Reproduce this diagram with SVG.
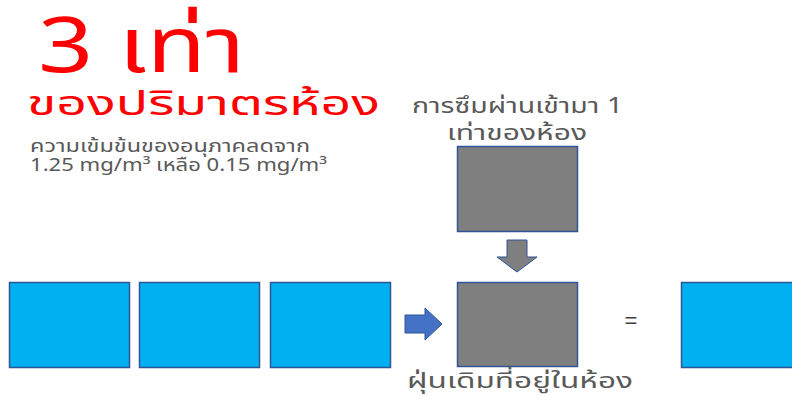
<svg xmlns="http://www.w3.org/2000/svg" width="792" height="396" viewBox="0 0 792 396">
<style>
.t{font-family:"Noto Sans","Noto Sans Thai","Leelawadee UI",Tahoma,sans-serif}
.red{fill:#ff0000}
.g{fill:#595959}
.blue{fill:#00b0f0;stroke:#2f5597;stroke-width:1.5}
.gray{fill:#7f7f7f;stroke:#2f5597;stroke-width:1.5}
</style>
<rect width="792" height="396" fill="#ffffff"/>
<g id="title">
<text class="t red" x="38" y="72" font-size="76" textLength="207" lengthAdjust="spacingAndGlyphs">3 เท่า</text>
<text class="t red" x="27" y="115" font-size="34" textLength="353" lengthAdjust="spacingAndGlyphs">ของปริมาตรห้อง</text>
</g>
<g id="subtitle">
<text class="t g" x="30" y="152" font-size="18" textLength="280" lengthAdjust="spacingAndGlyphs">ความเข้มข้นของอนุภาคลดจาก</text>
<text class="t g" x="30" y="171" font-size="18" textLength="297" lengthAdjust="spacingAndGlyphs">1.25 mg/m³ เหลือ 0.15 mg/m³</text>
</g>
<g id="room1"><rect class="blue" x="9.5" y="282.5" width="120" height="85"/></g>
<g id="room2"><rect class="blue" x="139.5" y="282.5" width="120" height="85"/></g>
<g id="room3"><rect class="blue" x="270.5" y="282.5" width="120" height="85"/></g>
<g id="infiltration">
<text class="t g" x="412" y="113" font-size="22" textLength="211" lengthAdjust="spacingAndGlyphs">การซึมผ่านเข้ามา 1</text>
<text class="t g" x="447" y="140" font-size="22" textLength="140" lengthAdjust="spacingAndGlyphs">เท่าของห้อง</text>
<rect class="gray" x="457.5" y="146.5" width="120" height="85"/>
</g>
<g id="existing">
<rect class="gray" x="457.5" y="282.5" width="120" height="84"/>
<text class="t g" x="407" y="388" font-size="22" textLength="226" lengthAdjust="spacingAndGlyphs">ฝุ่นเดิมที่อยู่ในห้อง</text>
</g>
<g id="result">
<text x="631" y="328" font-family="Liberation Sans, sans-serif" font-size="22" fill="#404040" text-anchor="middle">=</text>
<rect class="blue" x="681.5" y="282.5" width="120" height="85"/>
</g>
<g id="connectors">
<path d="M405,315 H425 V308 L442,324 L425,340 V333 H405 Z" fill="#4472c4" stroke="#2f5597" stroke-width="1"/>
<path d="M507,240 H527 V257 H537 L517,272 L497,257 H507 Z" fill="#7f7f7f" stroke="#2f5597" stroke-width="1"/>
</g>
</svg>
